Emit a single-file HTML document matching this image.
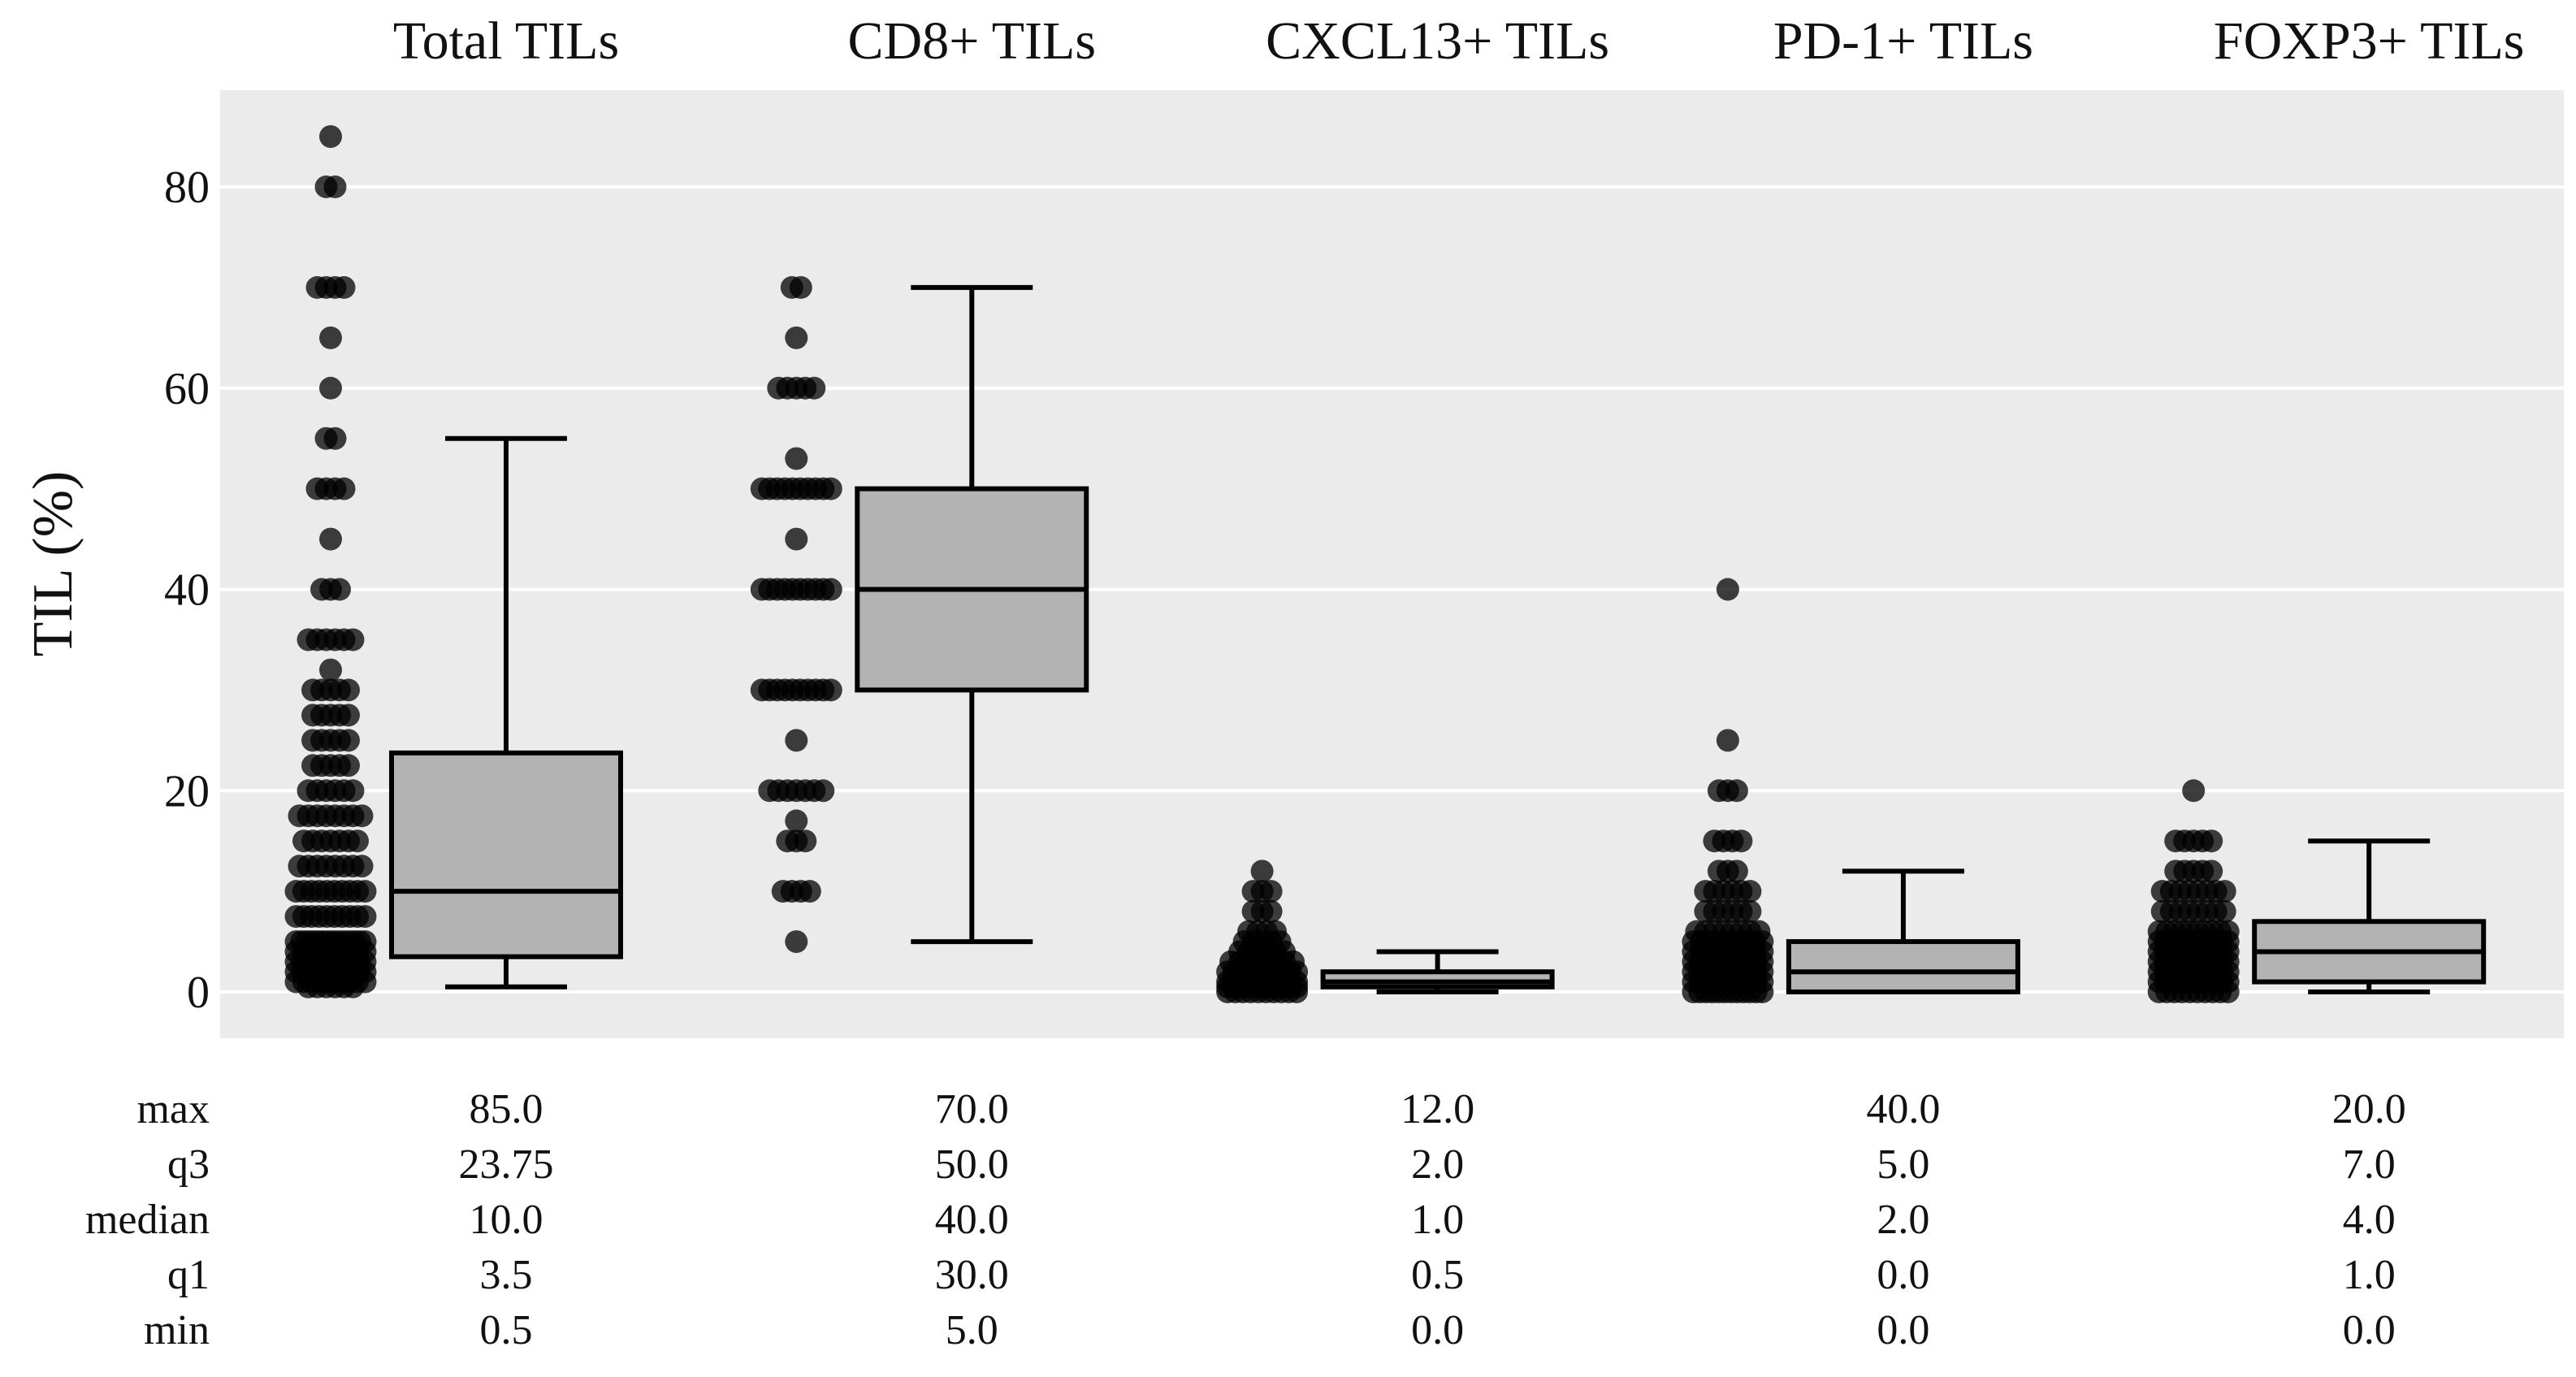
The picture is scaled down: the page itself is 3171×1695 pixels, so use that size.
<!DOCTYPE html>
<html><head><meta charset="utf-8">
<style>
html,body{margin:0;padding:0;background:#fff;}
svg{display:block;}
text{font-family:"Liberation Serif",serif;fill:#111;}
</style></head>
<body>
<svg id="chart" width="3171" height="1695" viewBox="0 0 3171 1695" xmlns="http://www.w3.org/2000/svg">
<rect x="271" y="111" width="2885" height="1167" fill="#ebebeb"/>
<g id="grid"></g>
<g id="marks"></g>
<g id="labels"></g>
</svg>
<script>
const categories = ["Total TILs","CD8+ TILs","CXCL13+ TILs","PD-1+ TILs","FOXP3+ TILs"];
const yTicks = [0,20,40,60,80];
const statMax = [85.0,70.0,12.0,40.0,20.0];
const statQ3 = [23.75,50.0,2.0,5.0,7.0];
const statMedian = [10.0,40.0,1.0,2.0,4.0];
const statQ1 = [3.5,30.0,0.5,0.0,1.0];
const statMin = [0.5,5.0,0.0,0.0,0.0];
const whiskerHigh = [55,70,4,12,15];
const whiskerLow = [0.5,5,0,0,0];
const statLabels = ["max","q3","median","q1","min"];
const statText = [
  ["85.0","70.0","12.0","40.0","20.0"],
  ["23.75","50.0","2.0","5.0","7.0"],
  ["10.0","40.0","1.0","2.0","4.0"],
  ["3.5","30.0","0.5","0.0","1.0"],
  ["0.5","5.0","0.0","0.0","0.0"]
];
// points: [value, count]
const ptsTotal = [[85,1],[80,2],[70,4],[65,1],[60,1],[55,2],[50,4],[45,1],[40,3],[35,6],[32,1],[30,5],[27.5,5],[25,5],[22.5,5],[20,6],[17.5,8],[15,7],[12.5,8],[10,10],[7.5,10],[5,14],[4,10],[3,12],[2,12],[1,10],[0.5,6]];
const ptsCD8 = [[70,2],[65,1],[60,5],[53,1],[50,10],[45,1],[40,10],[30,10],[25,1],[20,7],[17,1],[15,3],[10,4],[5,1]];
const ptsCXCL13 = [[12,1],[10,3],[8,3],[6,4],[5,5],[4,6],[3,8],[2,12],[1,14],[0.5,12],[0,10]];
const ptsPD1 = [[40,1],[25,1],[20,3],[15,4],[12,3],[10,6],[8,6],[6,8],[5,10],[4,10],[3,12],[2,12],[1,12],[0,12]];
const ptsFOXP3 = [[20,1],[15,5],[12,5],[10,8],[8,8],[6,10],[5,12],[4,12],[3,12],[2,12],[1,12],[0,10]];
const allPts = [ptsTotal,ptsCD8,ptsCXCL13,ptsPD1,ptsFOXP3];

const NS="http://www.w3.org/2000/svg";
const y0=1221, yPer=(1221-230)/80;
function yScale(v){return y0 - v*yPer;}
function xScale(i){return 623 + i*573.3;}
function mk(tag,attrs,parent){const e=document.createElementNS(NS,tag);for(const k in attrs)e.setAttribute(k,attrs[k]);parent.appendChild(e);return e;}
const grid=document.getElementById('grid'),marks=document.getElementById('marks'),labels=document.getElementById('labels');

yTicks.forEach(t=>{
  const l=mk('line',{x1:271,x2:3156,y1:yScale(t),y2:yScale(t),stroke:'#fff','stroke-width':4},grid);
  
  
  const tx=mk('text',{x:258,y:yScale(t)+19,'text-anchor':'end','font-size':56},labels);
  tx.textContent=t;
  
  
});
const yt=mk('text',{x:0,y:0,'text-anchor':'middle','font-size':70,transform:'translate(88,694) rotate(-90)'},labels);
yt.textContent='TIL (%)';



categories.forEach((c,i)=>{
  const cx=xScale(i);
  const t=mk('text',{x:cx,y:72,'text-anchor':'middle','font-size':66},labels);
  t.textContent=c;
  
  
  const dx=cx-216;
  allPts[i].forEach(([v,n])=>{
    const sp=n>1?Math.min(11,85/(n-1)):0;
    for(let k=0;k<n;k++){
      const d=mk('circle',{cx:dx+(k-(n-1)/2)*sp,cy:yScale(v),r:14,fill:'rgba(0,0,0,0.75)'},marks);
      
      
    }
  });
  const g=mk('g',{},marks);
  
  
  const hw=141,cw=75,sw=6;
  mk('line',{x1:cx,x2:cx,y1:yScale(whiskerHigh[i]),y2:yScale(statQ3[i]),stroke:'#000','stroke-width':sw},g);
  mk('line',{x1:cx,x2:cx,y1:yScale(statQ1[i]),y2:yScale(whiskerLow[i]),stroke:'#000','stroke-width':sw},g);
  mk('line',{x1:cx-cw,x2:cx+cw,y1:yScale(whiskerHigh[i]),y2:yScale(whiskerHigh[i]),stroke:'#000','stroke-width':sw},g);
  mk('line',{x1:cx-cw,x2:cx+cw,y1:yScale(whiskerLow[i]),y2:yScale(whiskerLow[i]),stroke:'#000','stroke-width':sw},g);
  mk('rect',{x:cx-hw,y:yScale(statQ3[i]),width:2*hw,height:Math.max(1,yScale(statQ1[i])-yScale(statQ3[i])),fill:'#b3b3b3',stroke:'#000','stroke-width':sw},g);
  mk('line',{x1:cx-hw,x2:cx+hw,y1:yScale(statMedian[i]),y2:yScale(statMedian[i]),stroke:'#000','stroke-width':sw},g);
});

const rowY=[1365,1433,1501,1569,1637];
statLabels.forEach((s,r)=>{
  const t=mk('text',{x:258,y:rowY[r]+17,'text-anchor':'end','font-size':52},labels);
  t.textContent=s;
  
  
  statText[r].forEach((v,i)=>{
    const tv=mk('text',{x:xScale(i),y:rowY[r]+17,'text-anchor':'middle','font-size':52},labels);
    tv.textContent=v;
    
    
  });
});
</script>
</body></html>
